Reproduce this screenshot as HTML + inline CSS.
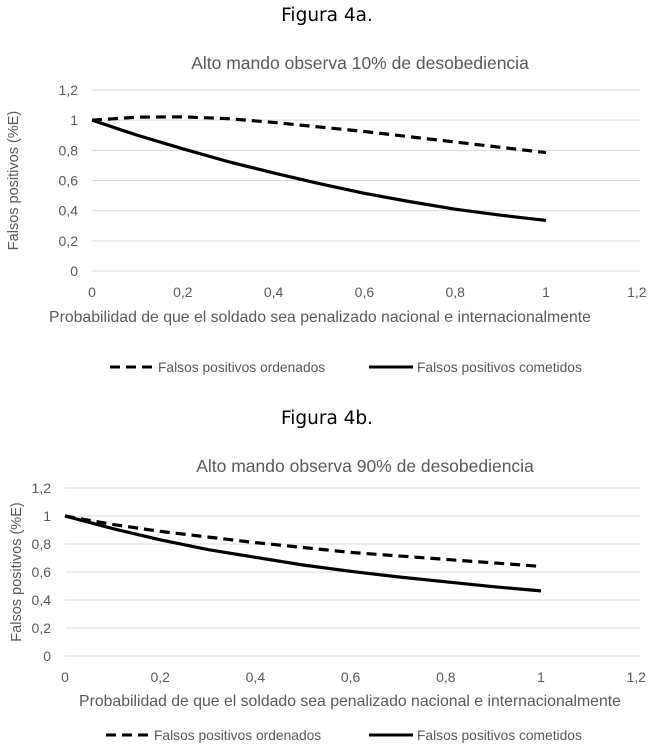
<!DOCTYPE html>
<html><head><meta charset="utf-8"><style>
body{margin:0;background:#fff;width:654px;height:750px;overflow:hidden;font-family:"DejaVu Sans","Liberation Sans",sans-serif}
svg text{font-family:"Liberation Sans",sans-serif;fill:#595959}
</style></head><body>
<svg id="s" width="654" height="750">
<text x="327" y="21" text-anchor="middle" style="font-family:'DejaVu Sans',sans-serif;font-size:18.5px;fill:#000">Figura 4a.</text>
<text x="327" y="424" text-anchor="middle" style="font-family:'DejaVu Sans',sans-serif;font-size:18.5px;fill:#000">Figura 4b.</text>
</svg>
<script>
const xTicks=[0,0.2,0.4,0.6,0.8,1,1.2];
const xTickLabels=["0","0,2","0,4","0,6","0,8","1","1,2"];
const yTicks=[0,0.2,0.4,0.6,0.8,1,1.2];
const yTickLabels=["0","0,2","0,4","0,6","0,8","1","1,2"];
const xs=[0,0.1,0.2,0.3,0.4,0.5,0.6,0.7,0.8,0.9,1];
const aOrdenados=[1,1.02,1.022,1.01,0.985,0.955,0.925,0.89,0.855,0.82,0.785];
const aCometidos=[1,0.9,0.81,0.725,0.65,0.58,0.515,0.46,0.41,0.37,0.335];
const bOrdenados=[1,0.94,0.89,0.85,0.81,0.775,0.74,0.715,0.69,0.665,0.64];
const bCometidos=[1,0.91,0.83,0.76,0.705,0.65,0.605,0.565,0.53,0.495,0.465];
const svg=document.getElementById('s');
const NS='http://www.w3.org/2000/svg';
function mk(t,a,txt){const e=document.createElementNS(NS,t);for(const k in a)e.setAttribute(k,a[k]);if(txt!=null)e.textContent=txt;svg.appendChild(e);return e;}
function chart(c,id){
 const sx=v=>c.x0+v*(c.x1-c.x0), sy=v=>c.y0-v/1.2*(c.y0-c.y1);
 const t=mk('text',{x:c.tx,y:c.ty,'text-anchor':'middle','font-size':17.5},c.title);
 
 
 yTicks.forEach((v,i)=>{
  const g=mk('line',{x1:c.x0,x2:640,y1:sy(v),y2:sy(v),stroke:'#d9d9d9','stroke-width':1});
  
  
  const l=mk('text',{x:c.x0-14,y:sy(v)+5,'text-anchor':'end','font-size':14},yTickLabels[i]);
  
  
 });
 xTicks.forEach((v,i)=>{
  const l=mk('text',{x:sx(v),y:c.y0+26,'text-anchor':'middle','font-size':14},xTickLabels[i]);
  
  
 });
 const xt=mk('text',{x:c.xtx,y:c.xty,'text-anchor':'middle','font-size':15.8},'Probabilidad de que el soldado sea penalizado nacional e internacionalmente');
 
 
 const yt=mk('text',{x:0,y:0,'text-anchor':'middle','font-size':14.5,transform:`translate(${c.ytx},${(c.y0+c.y1)/2}) rotate(-90)`},'Falsos positivos (%E)');
 
 
 const pts=a=>xs.map((x,i)=>sx(x)+','+sy(a[i])).join(' ');
 const p1=mk('polyline',{points:pts(c.ord),fill:'none',stroke:'#000','stroke-width':3.2,'stroke-dasharray':'10,6','stroke-linejoin':'round'});
 
 
 const p2=mk('polyline',{points:pts(c.com),fill:'none',stroke:'#000','stroke-width':3.2,'stroke-linejoin':'round'});
 
 
 const l1=mk('line',{x1:c.lx1,x2:c.lx1+42,y1:c.ly,y2:c.ly,stroke:'#000','stroke-width':3,'stroke-dasharray':'10,6'});
 
 
 const lt1=mk('text',{x:c.lx1+48,y:c.ly+5,'font-size':13.8},'Falsos positivos ordenados');
 
 
 const l2=mk('line',{x1:c.lx2,x2:c.lx2+44,y1:c.ly,y2:c.ly,stroke:'#000','stroke-width':3});
 
 
 const lt2=mk('text',{x:c.lx2+48,y:c.ly+5,'font-size':13.8},'Falsos positivos cometidos');
 
 
}
chart({x0:92,x1:546,y0:271,y1:90,title:'Alto mando observa 10% de desobediencia',tx:360,ty:69,xtx:320,xty:322,ytx:18,ly:367,lx1:110,lx2:369,ord:aOrdenados,com:aCometidos},'chart-a');
chart({x0:65,x1:541,y0:656,y1:488,title:'Alto mando observa 90% de desobediencia',tx:365,ty:472,xtx:350,xty:706,ytx:21,ly:735,lx1:106,lx2:369,ord:bOrdenados,com:bCometidos},'chart-b');
</script>
</body></html>
